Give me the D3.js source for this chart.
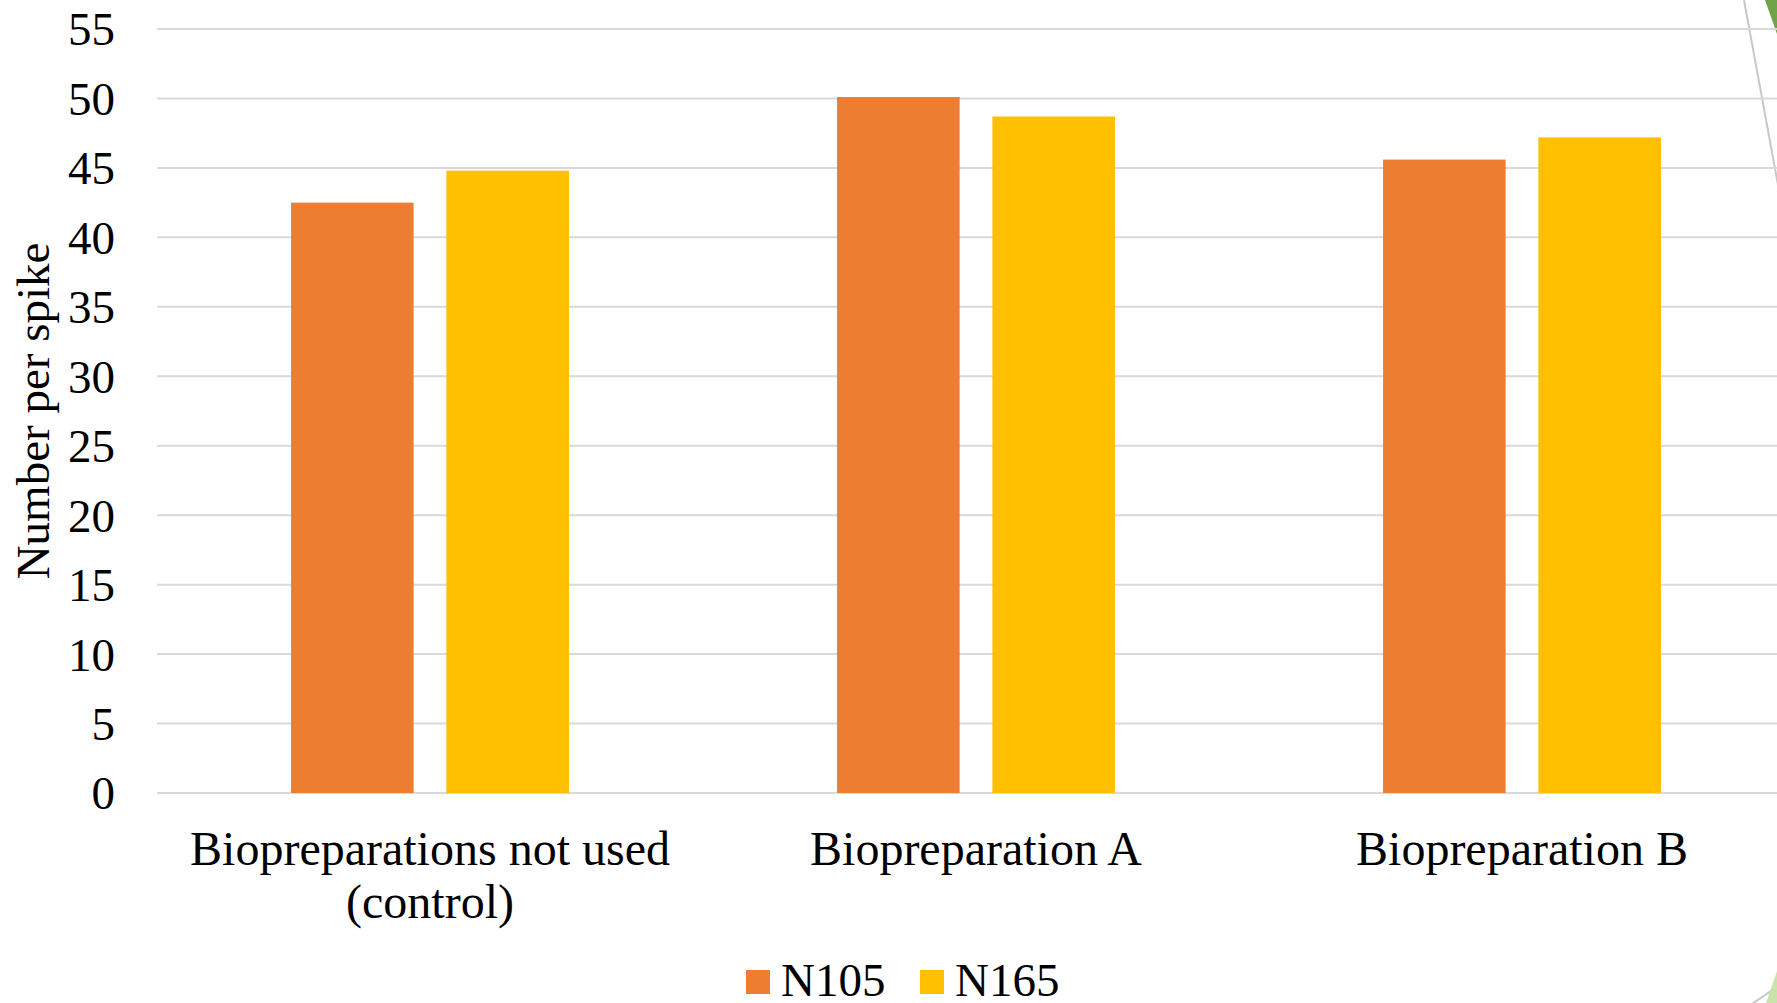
<!DOCTYPE html>
<html>
<head>
<meta charset="utf-8">
<script src="https://cdn.jsdelivr.net/npm/d3@7"></script>
<style>
  html, body { margin: 0; padding: 0; background: #fff; overflow: hidden; }
  svg { display: block; }
  text { font-family: "Liberation Serif", "Times New Roman", serif; fill: #000; }
</style>
</head>
<body>
<svg id="chart" width="1777" height="1003"></svg>
<script>
// ---- data ----
const categories = [["Biopreparations not used", "(control)"], ["Biopreparation A"], ["Biopreparation B"]];
const seriesNames = ["N105", "N165"];
const n105 = [42.5, 50.1, 45.6];
const n165 = [44.8, 48.7, 47.2];
const yTicks = [0, 5, 10, 15, 20, 25, 30, 35, 40, 45, 50, 55];
const yTitle = "Number per spike";
const colors = ["#ED7D31", "#FFC000"];

const W = 1777, H = 1003;
const svg = d3.select("#chart");
const fs = 47;

const plot = { left: 157, right: 1795, top: 29, bottom: 793 };

const catIdx = categories.map((c, i) => i);
const x0 = d3.scaleBand().domain(catIdx).range([plot.left, plot.right])
  .paddingInner(0.491).paddingOuter(0.2455);
const x1 = d3.scaleBand().domain(seriesNames).range([0, x0.bandwidth()])
  .paddingInner(0.211).paddingOuter(0);
const y = d3.scaleLinear().domain([0, 55]).range([plot.bottom, plot.top]);

// decorations (slide background)
svg.append("line").attr("x1", 1744).attr("y1", 0).attr("x2", 1778).attr("y2", 185)
  .attr("stroke", "#c8c8c8").attr("stroke-width", 2);
svg.append("path").attr("d", "M1765,0 L1777,0 L1777,34 Z").attr("fill", "#70A348");
svg.append("line").attr("x1", 1752).attr("y1", 1004).attr("x2", 1778).attr("y2", 986)
  .attr("stroke", "#c8c8c8").attr("stroke-width", 2);
svg.append("path").attr("d", "M1766,1003 L1777,971 L1777,1003 Z").attr("fill", "#CBE3A9");

// gridlines
svg.append("g").selectAll("line").data(yTicks).join("line")
  .attr("x1", plot.left).attr("x2", plot.right + 20)
  .attr("y1", d => y(d)).attr("y2", d => y(d))
  .attr("stroke", "#d9d9d9").attr("stroke-width", 2);

// y axis (labels only)
const yAxis = d3.axisLeft(y).tickValues(yTicks).tickSize(0).tickPadding(0).tickFormat(d3.format("d"));
const gy = svg.append("g").attr("transform", `translate(115,0)`).call(yAxis);
gy.select(".domain").remove();
gy.selectAll("text").attr("font-size", fs).attr("font-family", "Liberation Serif").attr("fill", "#000").attr("dy", "0.34em");

// bars
const series = [n105, n165];
const groups = svg.append("g").selectAll("g").data(catIdx).join("g")
  .attr("transform", i => `translate(${x0(i)},0)`);
groups.selectAll("rect").data(i => seriesNames.map((s, k) => ({ s, k, v: series[k][i] }))).join("rect")
  .attr("x", d => x1(d.s)).attr("width", x1.bandwidth())
  .attr("y", d => y(d.v)).attr("height", d => y(0) - y(d.v))
  .attr("fill", d => colors[d.k]);

// x category labels
const xl = svg.append("g");
categories.forEach((lines, i) => {
  const t = xl.append("text").attr("text-anchor", "middle").attr("font-size", 48)
    .attr("x", x0(i) + x0.bandwidth() / 2).attr("y", 865);
  lines.forEach((ln, j) => {
    t.append("tspan").attr("x", x0(i) + x0.bandwidth() / 2).attr("dy", j === 0 ? 0 : 53).text(ln);
  });
});

// y title
svg.append("text").attr("text-anchor", "middle").attr("font-size", fs)
  .attr("transform", `translate(49,${(plot.top + plot.bottom) / 2}) rotate(-90)`)
  .text(yTitle);

// legend
const legendX = [746, 920];
const lg = svg.append("g");
seriesNames.forEach((s, k) => {
  lg.append("rect").attr("x", legendX[k]).attr("y", 970).attr("width", 24).attr("height", 24).attr("fill", colors[k]);
  lg.append("text").attr("x", legendX[k] + 35).attr("y", 996).attr("font-size", fs).text(s);
});
</script>
</body>
</html>
